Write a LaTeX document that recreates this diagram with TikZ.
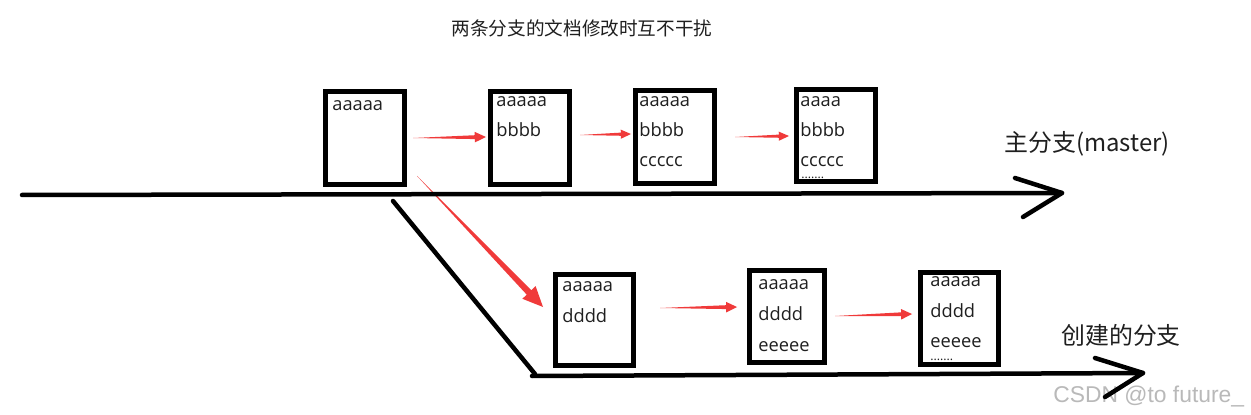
\documentclass[tikz,border=0pt]{standalone}
\usepackage{fontspec}
\setmainfont{Noto Sans CJK SC}
\newfontfamily\latf{Open Sans}
\newfontfamily\wmf{Liberation Sans}
\usetikzlibrary{calc}
\definecolor{redc}{RGB}{240,58,58}
\definecolor{wmgray}{RGB}{185,185,185}
\newlength\pxl \setlength\pxl{0.02cm}
% tapered red arrow: start, end, shaft half-width, head half-width, head length
\newcommand\redarrow[5]{%
  \coordinate (neck) at ($(#2)!#5!(#1)$);
  \fill[redc] (#1) -- ($(neck)!#3!90:(#2)$) -- ($(neck)!#4!90:(#2)$) -- (#2)
    -- ($(neck)!#4!-90:(#2)$) -- ($(neck)!#3!-90:(#2)$) -- cycle;}
\begin{document}
\begin{tikzpicture}[x=0.02cm,y=-0.02cm,
  box/.style={draw, line width=5\pxl, rectangle, inner sep=0pt},
  txt/.style={font=\latf\fontsize{10.4}{12}\selectfont, inner sep=0pt, anchor=base west, text=black!88},
  dots/.style={font=\latf\fontsize{7}{8}\selectfont, inner sep=0pt, anchor=base west, text=black!88},
  lbl/.style={inner sep=0pt, anchor=west, text=black!88, font=\fontsize{13.6}{15}\selectfont},
  bline/.style={line width=4.5\pxl, line cap=round, line join=round}]
\fill[white] (0,0) rectangle (1251,415);
\useasboundingbox (0,0) rectangle (1251,415);

% watermark
\node[anchor=base west, inner sep=0pt, font=\wmf\fontsize{13}{15}\selectfont, text=wmgray] (wm) at (1053,402) {CSDN @to future\_};

% title and labels
\node[inner sep=0pt, text=black!88, font=\fontsize{10.6}{12}\selectfont] (title) at (582,28) {两条分支的文档修改时互不干扰};
\node[lbl] (lm) at (1004,144) {主分支(master)};
\node[lbl] (lb) at (1061,335) {创建的分支};

% boxes
\node[box, minimum width=79\pxl, minimum height=93\pxl] (b1) at (365,138) {};
\node[box, minimum width=79\pxl, minimum height=93\pxl] (b2) at (530,138) {};
\node[box, minimum width=79\pxl, minimum height=93\pxl] (b3) at (675,137) {};
\node[box, minimum width=79\pxl, minimum height=92\pxl] (b4) at (836,135.5) {};
\node[box, minimum width=78\pxl, minimum height=91\pxl] (b5) at (594.5,320) {};
\node[box, minimum width=75\pxl, minimum height=92\pxl] (b6) at (787,316.5) {};
\node[box, minimum width=78\pxl, minimum height=92\pxl] (b7) at (959.5,318.5) {};

% box texts
\node[txt] (t1a) at (332,111) {aaaaa};
\node[txt] (t2a) at (496,107) {aaaaa};
\node[txt] (t2b) at (496,137) {bbbb};
\node[txt] (t3a) at (639,107) {aaaaa};
\node[txt] (t3b) at (639,137) {bbbb};
\node[txt] (t3c) at (639,167) {ccccc};
\node[txt] (t4a) at (800,107) {aaaa};
\node[txt] (t4b) at (800,137) {bbbb};
\node[txt] (t4c) at (800,167) {ccccc};
\node[dots] (t4d) at (801,179) {.......};
\node[txt] (t5a) at (562,292) {aaaaa};
\node[txt] (t5b) at (562,322) {dddd};
\node[txt] (t6a) at (758,290) {aaaaa};
\node[txt] (t6b) at (758,320) {dddd};
\node[txt] (t6c) at (758,351) {eeeee};
\node[txt] (t7a) at (930,287) {aaaaa};
\node[txt] (t7b) at (930,317) {dddd};
\node[txt] (t7c) at (930,347) {eeeee};
\node[dots] (t7d) at (930,360) {.......};

% red arrows
\coordinate (r1s) at (413,138); \coordinate (r1e) at (486,137);
\redarrow{r1s}{r1e}{1.1pt}{3.0pt}{6.4pt}
\coordinate (r2s) at (580,135); \coordinate (r2e) at (631,134);
\redarrow{r2s}{r2e}{0.9pt}{2.6pt}{5.8pt}
\coordinate (r3s) at (735,137); \coordinate (r3e) at (789,136);
\redarrow{r3s}{r3e}{0.9pt}{2.6pt}{5.8pt}
\coordinate (r4s) at (660,308); \coordinate (r4e) at (737,307);
\redarrow{r4s}{r4e}{1.1pt}{3.0pt}{6.2pt}
\coordinate (r5s) at (835,316); \coordinate (r5e) at (912,314);
\redarrow{r5s}{r5e}{1.1pt}{3.0pt}{6.2pt}
\coordinate (rds) at (417,176); \coordinate (rde) at (543,307);
\redarrow{rds}{rde}{1.8pt}{5.2pt}{11.5pt}

% black lines
\coordinate (m0) at (22,195); \coordinate (m1) at (1062,193);
\coordinate (mh1) at (1015,178); \coordinate (mh2) at (1023,217);
\draw[bline] (m0) -- (m1);
\draw[bline] (mh1) -- (m1) -- (mh2);
\coordinate (d0) at (393,201); \coordinate (d1) at (535,374);
\draw[bline] (d0) -- (d1);
\coordinate (h0) at (532,376); \coordinate (h1) at (1143,373);
\coordinate (hh1) at (1095,358); \coordinate (hh2) at (1105,397);
\draw[bline] (h0) -- (h1);
\draw[bline] (hh1) -- (h1) -- (hh2);
\end{tikzpicture}
\end{document}
